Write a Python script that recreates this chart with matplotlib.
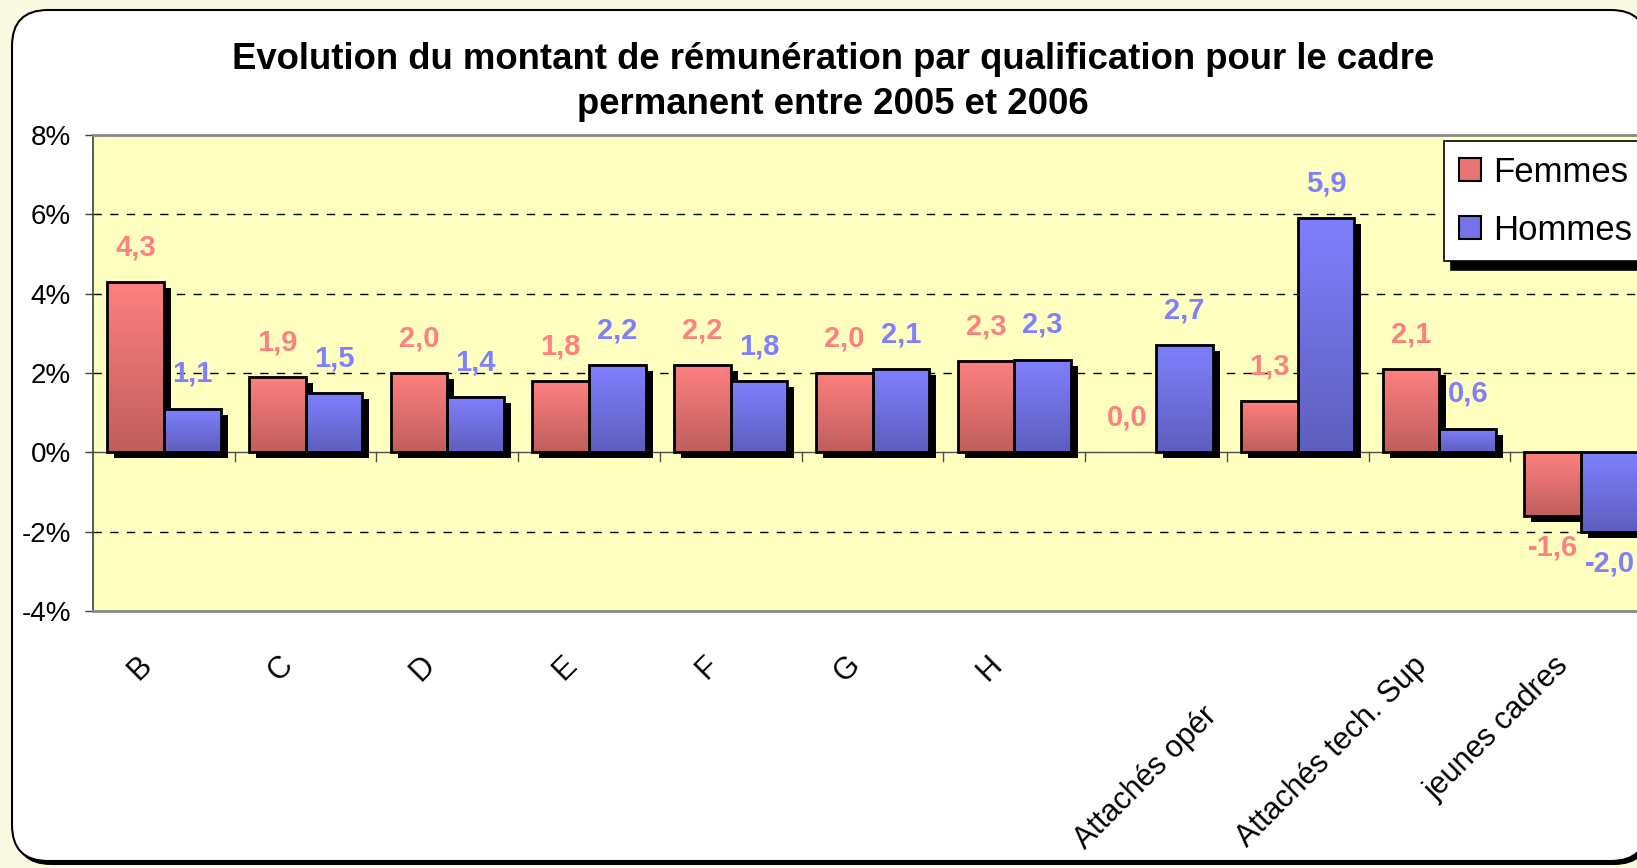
import numpy as np
import matplotlib
matplotlib.use('Agg')
import matplotlib.pyplot as plt
from matplotlib.patches import FancyBboxPatch, Patch
from matplotlib.colors import LinearSegmentedColormap
import matplotlib.transforms as mtransforms

plt.rcParams['font.family'] = ['Liberation Sans', 'DejaVu Sans']

# data
categories = ['B', 'C', 'D', 'E', 'F', 'G', 'H', '',
              'Attachés opér', 'Attachés tech. Sup', 'jeunes cadres']
femmes = [4.3, 1.9, 2.0, 1.8, 2.2, 2.0, 2.3, 0.0, 1.3, 2.1, -1.6]
hommes = [1.1, 1.5, 1.4, 2.2, 1.8, 2.1, 2.34, 2.7, 5.9, 0.6, -2.0]
y_ticks = [-4, -2, 0, 2, 4, 6, 8]
title = ('Evolution du montant de rémunération par qualification pour le cadre\n'
         'permanent entre 2005 et 2006')

W, H = 1637, 868
fig = plt.figure(figsize=(W / 100, H / 100), dpi=100)
fig.patch.set_facecolor('#FAFAE3')

# chart area (rounded white box with a black shadow)
bg = fig.add_axes([0, 0, 1, 1])
bg.set_xlim(0, W)
bg.set_ylim(H, 0)
bg.axis('off')
bg.add_patch(FancyBboxPatch((15, 13), 1635, 852, boxstyle='round,pad=0,rounding_size=36',
                            fc='black', ec='none'))
bg.add_patch(FancyBboxPatch((12, 10), 1635, 851, boxstyle='round,pad=0,rounding_size=36',
                            fc='white', ec='black', lw=1.5))

fig.text(833 / W, 1 - 82 / H, title, ha='center', va='center', fontsize=26.3,
         fontweight='bold', linespacing=1.35)

left, top, bottom, right = 93, 135, 611, 1652
ax = fig.add_axes([left / W, 1 - bottom / H, (right - left) / W, (bottom - top) / H])
ax.set_facecolor('#FFFFC0')

px_x = 1 / ((right - left) / len(categories))
px_y = 12 / (bottom - top)

for y in [-2, 2, 4, 6]:
    ax.axhline(y, color='black', lw=1, ls=(0, (6, 6)), zorder=1)
ax.axhline(0, color='#505050', lw=1, zorder=1.5)

x = np.arange(len(categories))
for b in x[:-1] + 0.5:
    ax.plot([b, b], [0, -9 * px_y], color='#505050', lw=1, zorder=1.5)

red_cmap = LinearSegmentedColormap.from_list('r', ['#C05E5E', '#FF8080'])
blue_cmap = LinearSegmentedColormap.from_list('b', ['#5E5EBE', '#8080FF'])
grad = np.linspace(0, 1, 128).reshape(-1, 1)
width = 0.4
dx, dy = 7 * px_x, -6 * px_y

for vals, off, cmap in [(femmes, -0.2, red_cmap), (hommes, 0.2, blue_cmap)]:
    ax.bar(x + off + dx, vals, width, bottom=dy, color='black', zorder=2)
    bars = ax.bar(x + off, vals, width, fc='none', ec='black',
                  lw=[2 if v != 0 else 0 for v in vals], zorder=4)
    for bar in bars:
        bx, by, bw, bh = bar.get_x(), bar.get_y(), bar.get_width(), bar.get_height()
        if bh == 0:
            continue
        lo, hi = min(by, by + bh), max(by, by + bh)
        ax.imshow(grad, cmap=cmap, extent=(bx, bx + bw, lo, hi), aspect='auto',
                  origin='lower', interpolation='bilinear', zorder=3)

for vals, off, col in [(femmes, -0.2, '#FF8080'), (hommes, 0.2, '#8080FF')]:
    for xi, v in zip(x, vals):
        oy = 25 if v >= 0 else -23
        ax.annotate(f'{v:.1f}'.replace('.', ','), (xi + off, v), xytext=(0, oy),
                    textcoords='offset points', ha='center', va='center',
                    fontsize=21, fontweight='bold', color=col, zorder=5)

ax.set_xlim(-0.5, len(categories) - 0.5)
ax.set_ylim(-4, 8)
ax.set_yticks(y_ticks)
ax.set_yticklabels([f'{t}%' for t in y_ticks])
ax.tick_params(axis='y', labelsize=20, length=6, width=1, pad=10, color='#404040')
ax.set_xticks([])

for side in ['top', 'right', 'bottom']:
    ax.spines[side].set_color('#888888')
    ax.spines[side].set_linewidth(2)
ax.spines['left'].set_color('#404040')
ax.spines['left'].set_linewidth(1.2)

# category labels; the truncated one ends at the left edge of its slot, as in Excel
trans = mtransforms.blended_transform_factory(ax.transData, ax.transAxes)
for xi, lab in zip(x, categories):
    lx, ly = xi - 0.12, -0.105
    if lab == 'Attachés opér':
        lx, ly = xi - 0.6, -0.21
    ax.text(lx, ly, lab, rotation=45, ha='right', va='center',
            rotation_mode='anchor', fontsize=22, transform=trans)

handles = [Patch(fc='#E87474', ec='black', lw=1.5),
           Patch(fc='#7474E8', ec='black', lw=1.5)]
leg = fig.legend(handles, ['Femmes', 'Hommes'], loc='upper left',
                 bbox_to_anchor=(1444 / W, 1 - 141 / H), bbox_transform=fig.transFigure,
                 fontsize=25, frameon=True, fancybox=False, borderaxespad=0,
                 handlelength=0.65, handleheight=0.65, handletextpad=0.35,
                 labelspacing=0.72, borderpad=0.42,
                 shadow={'color': 'black', 'alpha': 1, 'ox': 5, 'oy': -6})
leg.get_frame().set_edgecolor('black')
leg.get_frame().set_linewidth(1.2)

fig.savefig('out.png', dpi=100, facecolor=fig.get_facecolor())
